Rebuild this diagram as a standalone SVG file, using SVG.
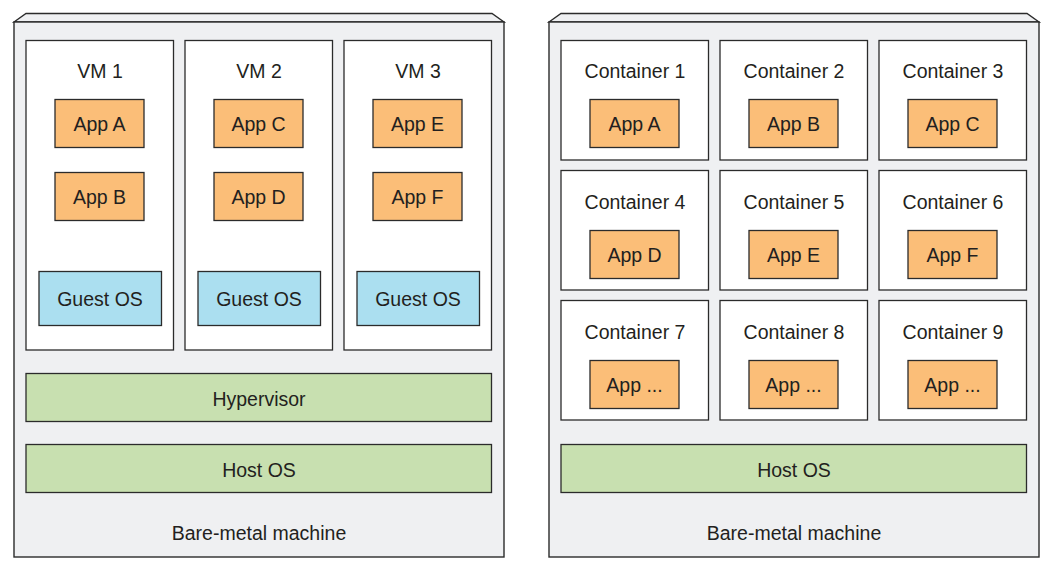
<svg xmlns="http://www.w3.org/2000/svg" width="1054" height="569" viewBox="0 0 1054 569">
  <style>
    .machine { fill: #eff0f2; stroke: #2b2b2b; stroke-width: 1.4; }
    .box { fill: #ffffff; stroke: #2b2b2b; stroke-width: 1.3; }
    .app { fill: #fbbe78; stroke: #2b2b2b; stroke-width: 1.3; }
    .guest { fill: #abdff0; stroke: #2b2b2b; stroke-width: 1.3; }
    .layer { fill: #c8e0b0; stroke: #2b2b2b; stroke-width: 1.3; }
    text { font-family: "Liberation Sans", Arial, sans-serif; font-size: 19.5px; fill: #231f20; text-anchor: middle; dominant-baseline: central; }
  </style>
  <rect width="1054" height="569" fill="#ffffff"/>

  <!-- Virtual machines side -->
  <g id="vm-machine">
    <path class="machine" d="M14,22 L26,13.5 L492,13.5 L504,22 Z"/>
    <rect class="machine" x="14" y="22" width="490" height="535"/>
    <text x="259" y="533">Bare-metal machine</text>
  </g>
  <g id="vm1">
    <rect class="box" x="26" y="40.5" width="147.5" height="309.5"/>
    <text x="100" y="71">VM 1</text>
  </g>
  <g id="vm1-app-a"><rect class="app" x="55" y="99.5" width="89" height="48"/><text x="99.5" y="123.5">App A</text></g>
  <g id="vm1-app-b"><rect class="app" x="55" y="172.5" width="89" height="48"/><text x="99.5" y="196.5">App B</text></g>
  <g id="vm1-guest"><rect class="guest" x="39" y="271.5" width="122.5" height="54"/><text x="100" y="298.5">Guest OS</text></g>

  <g id="vm2">
    <rect class="box" x="185" y="40.5" width="147.5" height="309.5"/>
    <text x="259" y="71">VM 2</text>
  </g>
  <g id="vm2-app-c"><rect class="app" x="214" y="99.5" width="89" height="48"/><text x="258.5" y="123.5">App C</text></g>
  <g id="vm2-app-d"><rect class="app" x="214" y="172.5" width="89" height="48"/><text x="258.5" y="196.5">App D</text></g>
  <g id="vm2-guest"><rect class="guest" x="198" y="271.5" width="122.5" height="54"/><text x="259" y="298.5">Guest OS</text></g>

  <g id="vm3">
    <rect class="box" x="344" y="40.5" width="147.5" height="309.5"/>
    <text x="418" y="71">VM 3</text>
  </g>
  <g id="vm3-app-e"><rect class="app" x="373" y="99.5" width="89" height="48"/><text x="417.5" y="123.5">App E</text></g>
  <g id="vm3-app-f"><rect class="app" x="373" y="172.5" width="89" height="48"/><text x="417.5" y="196.5">App F</text></g>
  <g id="vm3-guest"><rect class="guest" x="357" y="271.5" width="122.5" height="54"/><text x="418" y="298.5">Guest OS</text></g>

  <g id="hypervisor"><rect class="layer" x="26" y="373.5" width="465.5" height="48"/><text x="259" y="398.5">Hypervisor</text></g>
  <g id="vm-host-os"><rect class="layer" x="26" y="444.5" width="465.5" height="48"/><text x="259" y="469.5">Host OS</text></g>

  <!-- Containers side -->
  <g id="ct-machine">
    <path class="machine" d="M549,22 L561,13.5 L1027,13.5 L1039,22 Z"/>
    <rect class="machine" x="549" y="22" width="490" height="535"/>
    <text x="794" y="533">Bare-metal machine</text>
  </g>

  <g id="container1"><rect class="box" x="561" y="40.5" width="147.5" height="119.5"/><text x="635" y="71">Container 1</text></g>
  <g id="container1-app-a"><rect class="app" x="590" y="99.5" width="89" height="48"/><text x="634.5" y="123.5">App A</text></g>
  <g id="container2"><rect class="box" x="720" y="40.5" width="147.5" height="119.5"/><text x="794" y="71">Container 2</text></g>
  <g id="container2-app-b"><rect class="app" x="749" y="99.5" width="89" height="48"/><text x="793.5" y="123.5">App B</text></g>
  <g id="container3"><rect class="box" x="879" y="40.5" width="147.5" height="119.5"/><text x="953" y="71">Container 3</text></g>
  <g id="container3-app-c"><rect class="app" x="908" y="99.5" width="89" height="48"/><text x="952.5" y="123.5">App C</text></g>

  <g id="container4"><rect class="box" x="561" y="170.5" width="147.5" height="119.5"/><text x="635" y="202">Container 4</text></g>
  <g id="container4-app-d"><rect class="app" x="590" y="230.5" width="89" height="48"/><text x="634.5" y="254.5">App D</text></g>
  <g id="container5"><rect class="box" x="720" y="170.5" width="147.5" height="119.5"/><text x="794" y="202">Container 5</text></g>
  <g id="container5-app-e"><rect class="app" x="749" y="230.5" width="89" height="48"/><text x="793.5" y="254.5">App E</text></g>
  <g id="container6"><rect class="box" x="879" y="170.5" width="147.5" height="119.5"/><text x="953" y="202">Container 6</text></g>
  <g id="container6-app-f"><rect class="app" x="908" y="230.5" width="89" height="48"/><text x="952.5" y="254.5">App F</text></g>

  <g id="container7"><rect class="box" x="561" y="300.5" width="147.5" height="119.5"/><text x="635" y="332">Container 7</text></g>
  <g id="container7-app"><rect class="app" x="590" y="360.5" width="89" height="48"/><text x="634.5" y="384.5">App ...</text></g>
  <g id="container8"><rect class="box" x="720" y="300.5" width="147.5" height="119.5"/><text x="794" y="332">Container 8</text></g>
  <g id="container8-app"><rect class="app" x="749" y="360.5" width="89" height="48"/><text x="793.5" y="384.5">App ...</text></g>
  <g id="container9"><rect class="box" x="879" y="300.5" width="147.5" height="119.5"/><text x="953" y="332">Container 9</text></g>
  <g id="container9-app"><rect class="app" x="908" y="360.5" width="89" height="48"/><text x="952.5" y="384.5">App ...</text></g>

  <g id="ct-host-os"><rect class="layer" x="561" y="444.5" width="465.5" height="48"/><text x="794" y="469.5">Host OS</text></g>

  <!-- no connectors in this figure -->
  <g id="connectors"/>
</svg>
